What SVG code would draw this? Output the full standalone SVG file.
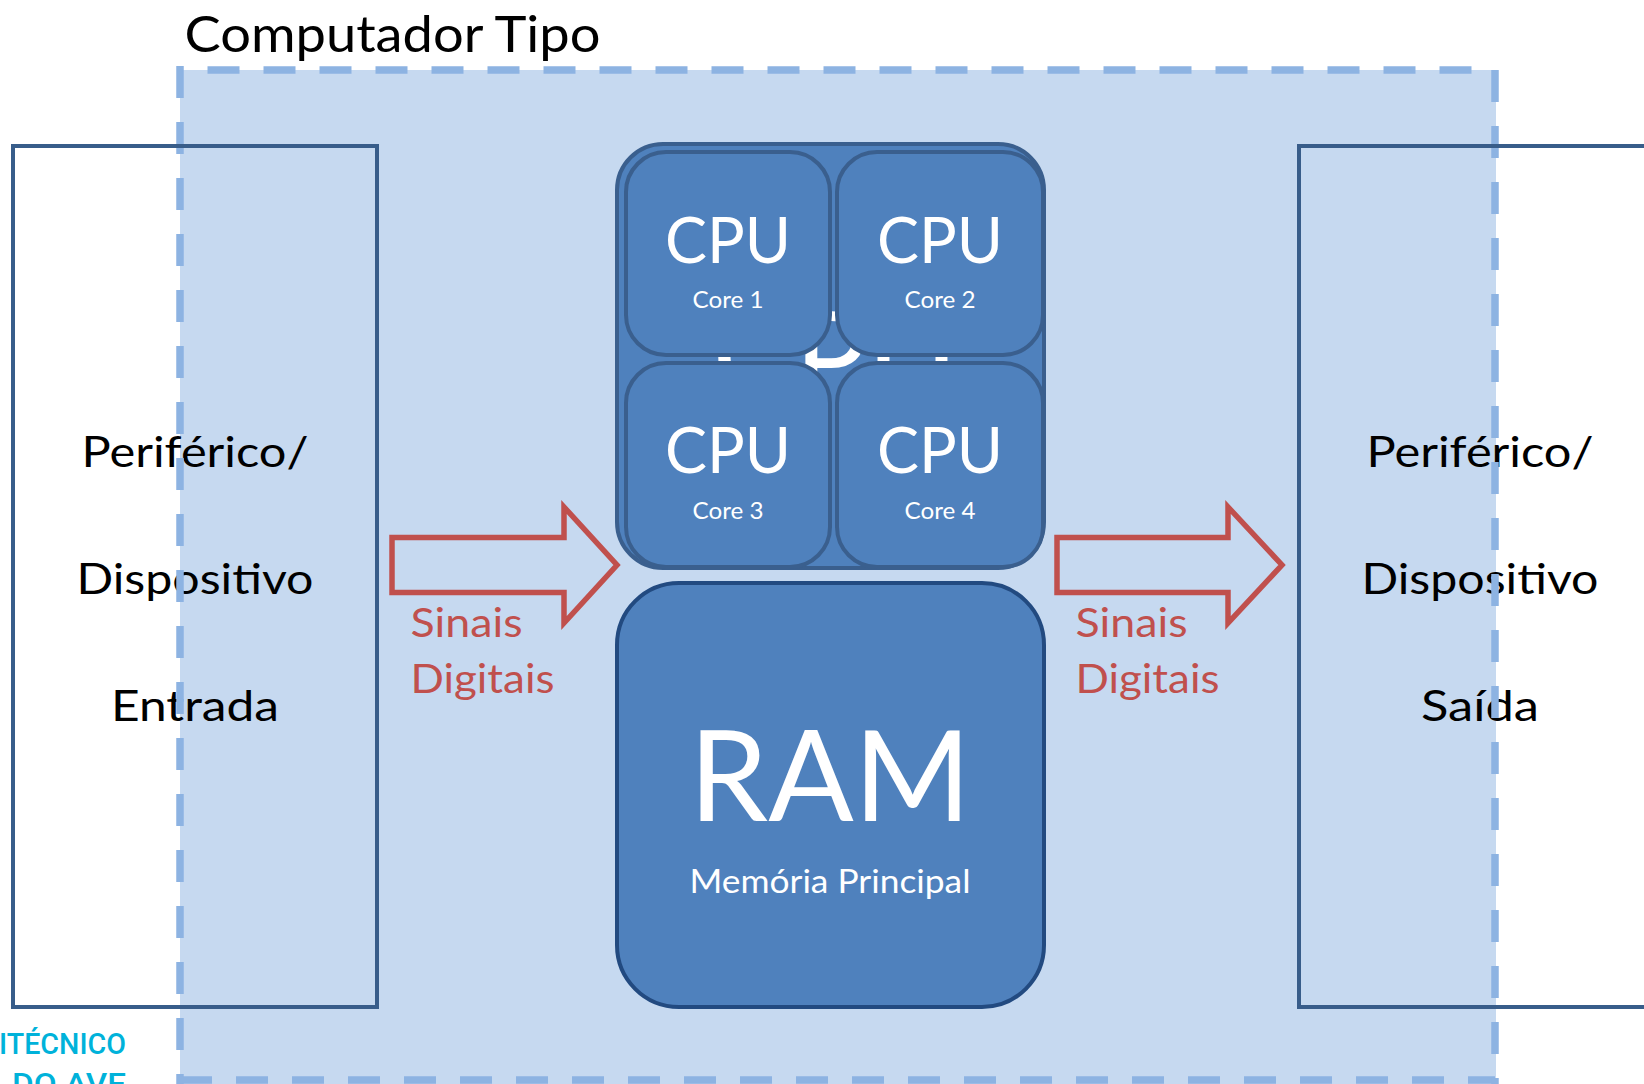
<svg xmlns="http://www.w3.org/2000/svg" width="1644" height="1084" viewBox="0 0 1644 1084">
  <style>
    .lbl { font-family: "Lato", "Liberation Sans", sans-serif; }
    .dark { fill: #000000; }
    .white { fill: #ffffff; }
    .red { fill: #C0504D; }
    .logo { font-family: "Roboto", "Liberation Sans", sans-serif; font-weight: 500; fill: #00B2DA; }
    .periph { fill: none; stroke: #385D8A; stroke-width: 4; stroke-linejoin: miter; }
    .core { fill: #4F81BD; stroke: #3A5F8E; stroke-width: 4; }
    .ram { fill: #4F81BD; stroke: #224A80; stroke-width: 4; }
    .dash { fill: none; stroke: #8DB3E2; stroke-width: 7.5; stroke-dasharray: 32 24; }
    .flow { fill: none; stroke: #C0504D; stroke-width: 5.5; stroke-linejoin: miter; }
  </style>

  <rect x="0" y="0" width="1644" height="1084" fill="#ffffff"/>

  <!-- Computer boundary: fill -->
  <g id="computador-fill">
    <rect x="180" y="70" width="1316" height="1014" fill="#C6D9F0"/>
  </g>
  <text class="lbl dark" x="184.5" y="52" font-size="51" textLength="416" lengthAdjust="spacingAndGlyphs">Computador Tipo</text>

  <!-- Input peripheral -->
  <g id="periferico-entrada">
    <text class="lbl dark" x="195" y="466.5" font-size="42" text-anchor="middle" textLength="227" lengthAdjust="spacingAndGlyphs">Periférico/</text>
    <text class="lbl dark" x="195" y="594" font-size="42" text-anchor="middle" textLength="237" lengthAdjust="spacingAndGlyphs">Dispositivo</text>
    <text class="lbl dark" x="195" y="721" font-size="42" text-anchor="middle" textLength="168" lengthAdjust="spacingAndGlyphs">Entrada</text>
  </g>

  <!-- Output peripheral -->
  <g id="periferico-saida">
    <text class="lbl dark" x="1480" y="466.5" font-size="42" text-anchor="middle" textLength="227" lengthAdjust="spacingAndGlyphs">Periférico/</text>
    <text class="lbl dark" x="1480" y="594" font-size="42" text-anchor="middle" textLength="237" lengthAdjust="spacingAndGlyphs">Dispositivo</text>
    <text class="lbl dark" x="1480" y="721" font-size="42" text-anchor="middle" textLength="118" lengthAdjust="spacingAndGlyphs">Saída</text>
  </g>

  <!-- Computer boundary: dashed outline, each side phased on its own -->
  <g id="computador-borda">
    <path class="dash" d="M207.5 70 H1495"/>
    <path class="dash" d="M180 66 V1084"/>
    <path class="dash" d="M180 1080 H1495"/>
    <path class="dash" d="M1495 70 V1084"/>
  </g>

  <g id="periferico-entrada-caixa">
    <rect class="periph" x="13" y="146" width="364" height="861"/>
  </g>
  <g id="periferico-saida-caixa">
    <rect class="periph" x="1299" y="146" width="360" height="861"/>
  </g>

  <!-- Processor with four cores -->
  <g id="cpu">
    <rect class="core" x="617" y="144" width="427" height="424" rx="46" ry="46"/>
    <text class="lbl white" x="835" y="402" font-size="126" text-anchor="middle" textLength="245" lengthAdjust="spacingAndGlyphs">CPU</text>
  </g>
  <g id="core-1">
    <rect class="core" x="626" y="152" width="204" height="203" rx="40" ry="40"/>
    <text class="lbl white" x="728" y="262.7" font-size="64" text-anchor="middle" textLength="126" lengthAdjust="spacingAndGlyphs">CPU</text>
    <text class="lbl white" x="728" y="308.3" font-size="23.3" text-anchor="middle" textLength="71" lengthAdjust="spacingAndGlyphs">Core 1</text>
  </g>
  <g id="core-2">
    <rect class="core" x="837" y="152" width="206" height="203" rx="40" ry="40"/>
    <text class="lbl white" x="940" y="262.7" font-size="64" text-anchor="middle" textLength="126" lengthAdjust="spacingAndGlyphs">CPU</text>
    <text class="lbl white" x="940" y="308.3" font-size="23.3" text-anchor="middle" textLength="71" lengthAdjust="spacingAndGlyphs">Core 2</text>
  </g>
  <g id="core-3">
    <rect class="core" x="626" y="363" width="204" height="204" rx="40" ry="40"/>
    <text class="lbl white" x="728" y="473.3" font-size="64" text-anchor="middle" textLength="126" lengthAdjust="spacingAndGlyphs">CPU</text>
    <text class="lbl white" x="728" y="519" font-size="23.3" text-anchor="middle" textLength="71" lengthAdjust="spacingAndGlyphs">Core 3</text>
  </g>
  <g id="core-4">
    <rect class="core" x="837" y="363" width="206" height="204" rx="40" ry="40"/>
    <text class="lbl white" x="940" y="473.3" font-size="64" text-anchor="middle" textLength="126" lengthAdjust="spacingAndGlyphs">CPU</text>
    <text class="lbl white" x="940" y="519" font-size="23.3" text-anchor="middle" textLength="71" lengthAdjust="spacingAndGlyphs">Core 4</text>
  </g>

  <!-- Main memory -->
  <g id="ram">
    <rect class="ram" x="617" y="583" width="427" height="424" rx="62" ry="62"/>
    <text class="lbl white" x="830" y="821" font-size="126" text-anchor="middle" textLength="282" lengthAdjust="spacingAndGlyphs">RAM</text>
    <text class="lbl white" x="830" y="893.3" font-size="32" text-anchor="middle" textLength="281" lengthAdjust="spacingAndGlyphs">Memória Principal</text>
  </g>

  <!-- Signal flow arrows -->
  <g id="ligacoes">
    <path class="flow" d="M392 537.5 H564 V507 L617 565 L564 623 V592.5 H392 Z"/>
    <path class="flow" d="M1057 537.5 H1228 V507 L1282 565 L1228 623 V592.5 H1057 Z"/>
    <text class="lbl red" x="410.5" y="636.7" font-size="40" textLength="112" lengthAdjust="spacingAndGlyphs">Sinais</text>
    <text class="lbl red" x="410.5" y="693.3" font-size="40" textLength="144" lengthAdjust="spacingAndGlyphs">Digitais</text>
    <text class="lbl red" x="1075.5" y="636.7" font-size="40" textLength="112" lengthAdjust="spacingAndGlyphs">Sinais</text>
    <text class="lbl red" x="1075.5" y="693.3" font-size="40" textLength="144" lengthAdjust="spacingAndGlyphs">Digitais</text>
  </g>

  <!-- Institution mark, bottom left -->
  <g id="logo">
    <text class="logo" x="-1" y="1054" font-size="29" textLength="127" lengthAdjust="spacingAndGlyphs">ITÉCNICO</text>
    <text class="logo" x="12" y="1094" font-size="29" textLength="114" lengthAdjust="spacingAndGlyphs">DO AVE</text>
  </g>
</svg>
